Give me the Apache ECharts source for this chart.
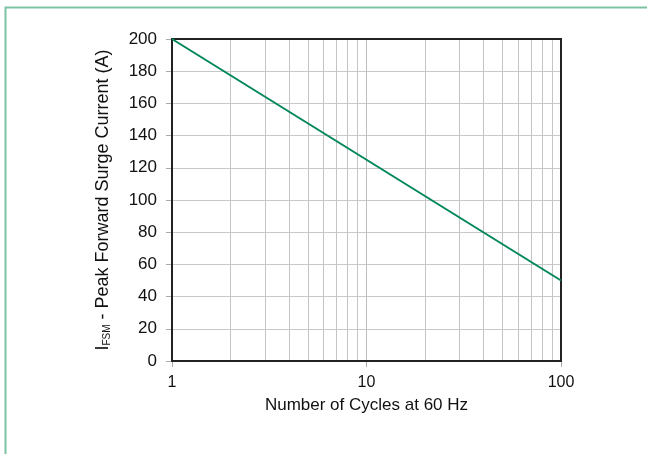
<!DOCTYPE html>
<html><head><meta charset="utf-8">
<script src="https://cdn.jsdelivr.net/npm/echarts@6/dist/echarts.min.js"></script>
<style>html,body{margin:0;padding:0;background:#fff}#c{width:647px;height:454px}</style>
</head><body><div id="c"></div>
<script>
const cycles = [1, 100];
const current = [200, 50];
const minorGridX = [2,3,4,5,6,7,8,9,20,30,40,50,60,70,80,90];
const yTicks = {min: 0, max: 200, interval: 20};
const xTicks = {min: 1, max: 100};

const chart = echarts.init(document.getElementById('c'), null, {renderer: 'canvas'});
const font = 'Liberation Sans, Arial, sans-serif';
chart.setOption({
  animation: false,
  backgroundColor: '#fff',
  textStyle: {fontFamily: font},
  graphic: [{
    type: 'rect', silent: true, z: 100,
    shape: {x: 5.5, y: 7.5, width: 800, height: 600},
    style: {fill: 'none', stroke: '#7dc2a2', lineWidth: 2}
  }],
  grid: {left: 172, right: 86, top: 39, bottom: 93, show: true, borderColor: '#222', borderWidth: 2, backgroundColor: 'transparent', z: 3},
  xAxis: {
    type: 'log', logBase: 10, min: xTicks.min, max: xTicks.max,
    name: 'Number of Cycles at 60 Hz', nameLocation: 'middle', nameGap: 36,
    nameTextStyle: {fontSize: 17, color: '#111', fontFamily: font},
    axisLine: {show: true, lineStyle: {color: '#222', width: 2}},
    axisTick: {show: true, length: 6, lineStyle: {color: '#aaa'}},
    axisLabel: {fontSize: 16, color: '#111', margin: 14, fontFamily: font},
    splitLine: {show: true, lineStyle: {color: '#bdbdbd', width: 1}}
  },
  yAxis: {
    type: 'value', min: yTicks.min, max: yTicks.max, interval: yTicks.interval,
    name: '{a|I}{s|FSM}{a| - Peak Forward Surge Current (A)}',
    nameLocation: 'middle', nameGap: 58, nameRotate: 90,
    nameTextStyle: {
      fontFamily: font, color: '#111',
      rich: {
        a: {fontSize: 18, color: '#111', fontFamily: font, height: 22, verticalAlign: 'bottom'},
        s: {fontSize: 10, color: '#111', fontFamily: font, height: 22, verticalAlign: 'bottom', padding: [0,0,-4,0]}
      }
    },
    axisLine: {show: true, lineStyle: {color: '#222', width: 2}},
    axisTick: {show: true, length: 6, lineStyle: {color: '#aaa'}},
    axisLabel: {fontSize: 17, color: '#111', margin: 15, fontFamily: font, padding: [5,0,0,0]},
    splitLine: {show: true, lineStyle: {color: '#c8c8c8', width: 1}}
  },
  series: [{
    type: 'line',
    data: cycles.map((c, i) => [c, current[i]]),
    symbol: 'none',
    lineStyle: {color: '#00875a', width: 2},
    z: 5,
    markLine: {
      silent: true, symbol: 'none', label: {show: false},
      lineStyle: {color: '#c4c4c4', width: 1, type: 'solid'},
      z: 1,
      data: minorGridX.map(v => ({xAxis: v}))
    }
  }]
});
</script></body></html>
